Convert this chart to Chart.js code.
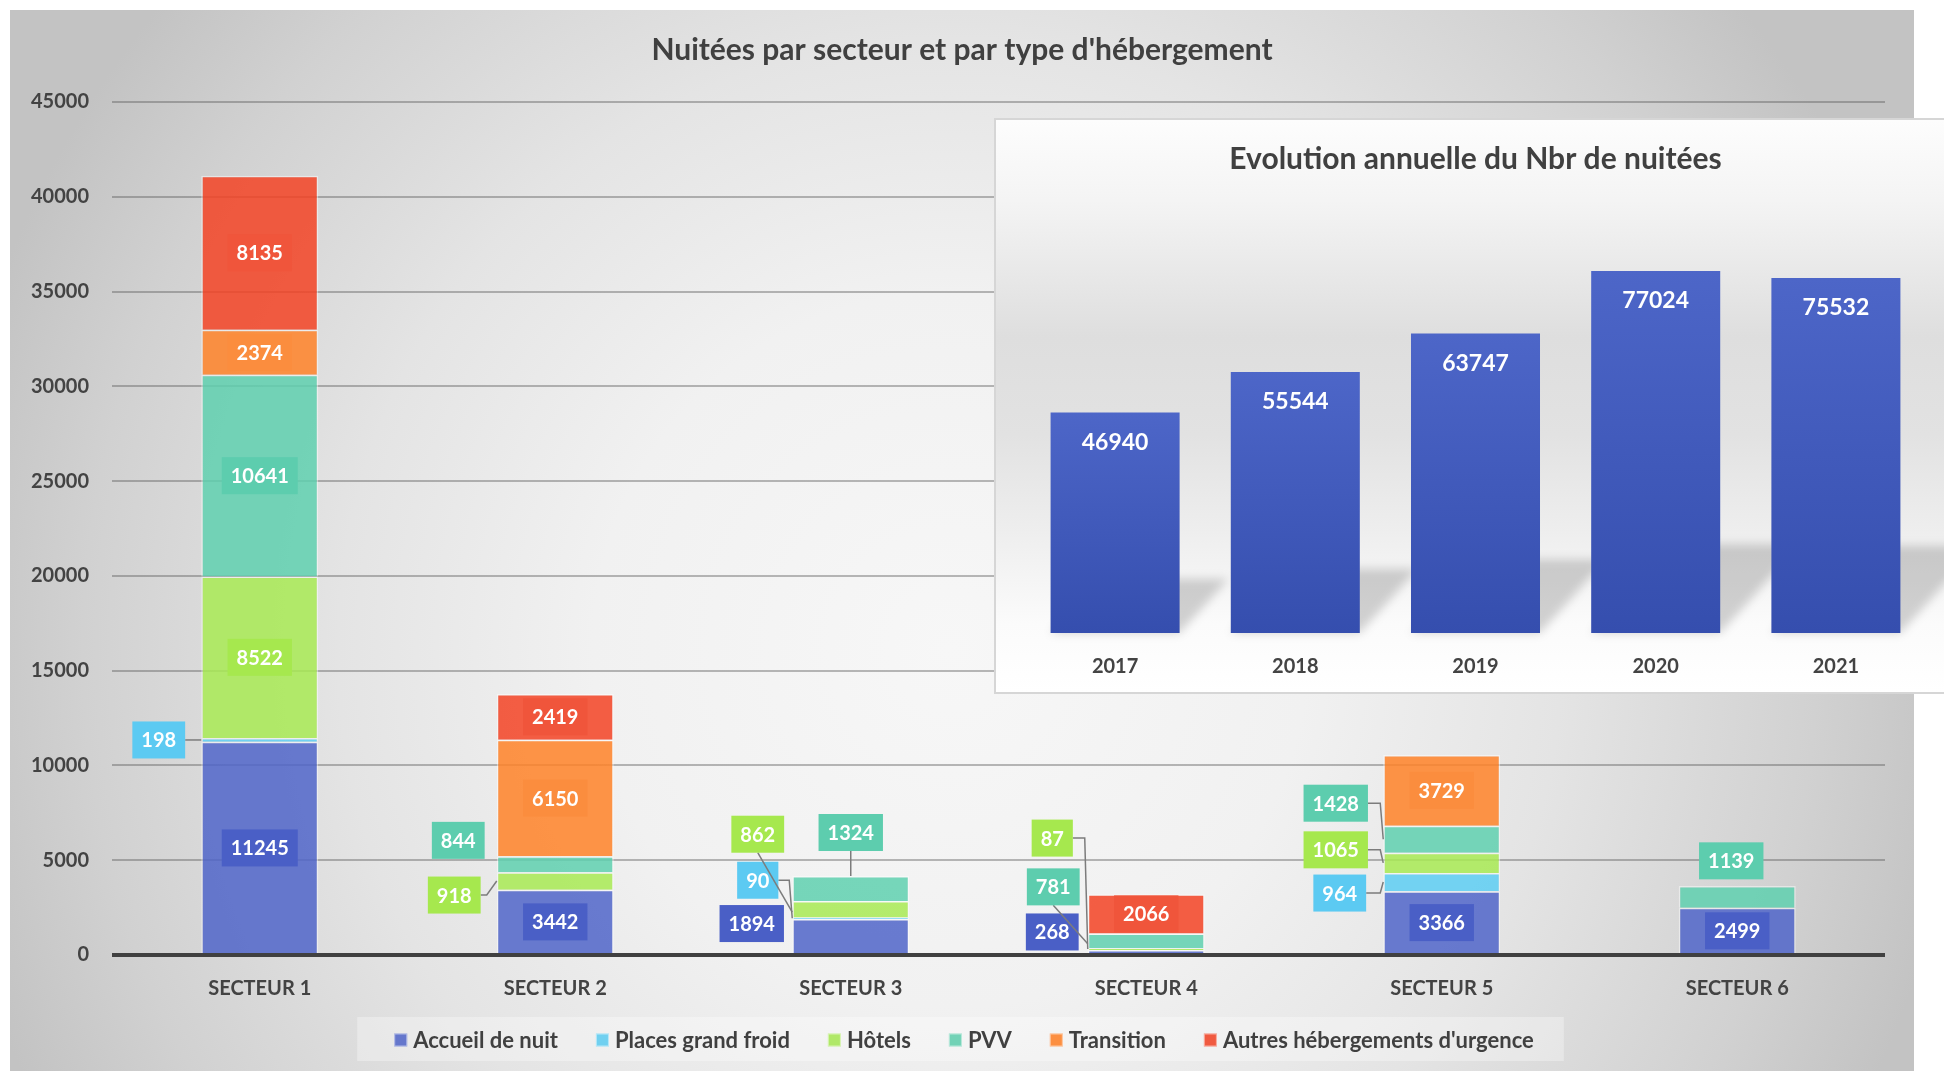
<!DOCTYPE html>
<html>
<head>
<meta charset="utf-8">
<title>Nuitées par secteur et par type d'hébergement</title>
<script src="https://cdn.jsdelivr.net/npm/chart.js@4.4.1/dist/chart.umd.min.js"></script>
<style>
  html, body { margin: 0; padding: 0; background: #ffffff; width: 1944px; height: 1071px; overflow: hidden; }
  #main { position: absolute; left: 0; top: 0; }
  #insetBox {
    position: absolute; left: 994px; top: 118px; width: 960px; height: 572px;
    border: 2px solid #d6d6d6;
    background: linear-gradient(to bottom, #fdfdfd 0%, #f4f4f4 14%, #dedede 38%, #e2e2e2 55%, #eeeeee 72%, #fbfbfb 88%, #ffffff 100%);
  }
  #inset { position: absolute; left: 0; top: 0; }
</style>
</head>
<body>
<canvas id="main" width="1944" height="1071"></canvas>
<div id="insetBox"><canvas id="inset" width="960" height="572"></canvas></div>
<script>
// ---- Data: nights per sector and accommodation type ----
const sectors = ['SECTEUR 1', 'SECTEUR 2', 'SECTEUR 3', 'SECTEUR 4', 'SECTEUR 5', 'SECTEUR 6'];
const accueilDeNuit    = [11245, 3442, 1894, 268, 3366, 2499];
const placesGrandFroid = [198, null, 90, null, 964, null];
const hotels           = [8522, 918, 862, 87, 1065, null];
const pvv              = [10641, 844, 1324, 781, 1428, 1139];
const transition       = [2374, 6150, null, null, 3729, null];
const autresUrgence    = [8135, 2419, null, 2066, null, null];

const seriesNames = ['Accueil de nuit', 'Places grand froid', 'Hôtels', 'PVV', 'Transition', "Autres hébergements d'urgence"];
const yTickStep = 5000;
const yTickMax = 45000;

// ---- Data: yearly totals ----
const years = ['2017', '2018', '2019', '2020', '2021'];
const nuiteesAnnuelles = [46940, 55544, 63747, 77024, 75532];

// ---- Styles ----
const barColors   = ['rgba(80,101,201,0.85)', 'rgba(93,206,243,0.85)', 'rgba(168,234,84,0.85)',
                     'rgba(95,208,175,0.85)', 'rgba(255,130,40,0.85)', 'rgba(243,67,36,0.85)'];
const labelColors = ['#4a5fc6', '#5ccaf2', '#a6e84e', '#5dcdae', '#fb8d3e', '#f0553b'];
const legendColors = ['#6577cc', '#70d0f0', '#b0e868', '#72d2b6', '#fc8f41', '#f05a40'];
const axisTextColor = '#434343';

// Placement of value boxes that sit beside their segment (key: series:sector)
const labelPlacement = {
  '1:0': { dx: -101, dy: 0,    leader: 'elbow' },
  '2:1': { dx: -101, dy: 14,   leader: 'elbow', elbow: 10 },
  '3:1': { dx: -97,  dy: -24 },
  '0:2': { dx: -99,  dy: -13 },
  '1:2': { dx: -93,  dy: -38,  leader: 'elbow' },
  '2:2': { dx: -93,  dy: -75,  leader: 'bottom' },
  '3:2': { dx: 0,    dy: -56,  leader: 'top' },
  '0:3': { dx: -94,  dy: -20 },
  '2:3': { dx: -94,  dy: -111, leader: 'elbow' },
  '3:3': { dx: -93,  dy: -54,  leader: 'bottom' },
  '1:4': { dx: -102, dy: 11,   leader: 'elbow' },
  '2:4': { dx: -106, dy: -13,  leader: 'elbow' },
  '3:4': { dx: -106, dy: -36,  leader: 'elbow' },
  '3:5': { dx: -6,   dy: -36 }
};

Chart.defaults.font.family = 'Lato, "Open Sans", sans-serif';

const seriesData = [accueilDeNuit, placesGrandFroid, hotels, pvv, transition, autresUrgence];

// Grey panel behind the main chart
const panelBackground = {
  id: 'panelBackground',
  beforeDraw(chart) {
    const ctx = chart.ctx;
    ctx.save();
    ctx.fillStyle = '#ffffff';
    ctx.fillRect(0, 0, chart.width, chart.height);
    const g = ctx.createRadialGradient(950, 650, 0, 950, 650, 1020);
    g.addColorStop(0, '#f7f7f7');
    g.addColorStop(0.35, '#f1f1f1');
    g.addColorStop(0.6, '#e4e4e4');
    g.addColorStop(0.85, '#d1d1d1');
    g.addColorStop(1, '#c3c3c3');
    ctx.fillStyle = g;
    ctx.fillRect(10, 10, 1904, chart.height - 10);
    ctx.restore();
  }
};

// Thick zero line over the bar feet
const zeroLine = {
  id: 'zeroLine',
  afterDatasetsDraw(chart) {
    const { ctx, chartArea, scales } = chart;
    const y = scales.y.getPixelForValue(0);
    ctx.save();
    ctx.strokeStyle = '#404040';
    ctx.lineWidth = 4;
    ctx.beginPath();
    ctx.moveTo(chartArea.left, y);
    ctx.lineTo(chartArea.right, y);
    ctx.stroke();
    ctx.restore();
  }
};

// Value boxes on each stacked segment
const segmentLabels = {
  id: 'segmentLabels',
  afterDatasetsDraw(chart) {
    const ctx = chart.ctx;
    ctx.save();
    ctx.font = 'bold 20px Lato';
    ctx.textAlign = 'center';
    ctx.textBaseline = 'middle';
    chart.data.datasets.forEach((ds, i) => {
      const meta = chart.getDatasetMeta(i);
      meta.data.forEach((el, j) => {
        const v = ds.data[j];
        if (v === null || v === undefined) return;
        const segY = (el.y + el.base) / 2;
        const p = labelPlacement[i + ':' + j];
        const text = String(v);
        const w = ctx.measureText(text).width + 18;
        const h = 37;
        let cx = el.x, cy = segY;
        if (p) { cx += p.dx; cy += p.dy; }
        const barLeft = el.x - el.width / 2;
        if (p && p.leader) {
          ctx.strokeStyle = '#7c7c7c';
          ctx.lineWidth = 1.5;
          ctx.beginPath();
          if (p.leader === 'elbow') {
            const ex = barLeft - (p.elbow || 3);
            ctx.moveTo(cx + w / 2, cy);
            ctx.lineTo(ex, cy);
            ctx.lineTo(barLeft, segY);
          } else if (p.leader === 'bottom') {
            ctx.moveTo(cx, cy + h / 2);
            ctx.lineTo(barLeft, segY + 3);
          } else if (p.leader === 'top') {
            ctx.moveTo(cx, cy + h / 2);
            ctx.lineTo(cx, el.y);
          }
          ctx.stroke();
        }
        ctx.fillStyle = ds.labelColor;
        ctx.fillRect(cx - w / 2, cy - h / 2, w, h);
        ctx.fillStyle = '#ffffff';
        ctx.fillText(text, cx, cy + 1);
      });
    });
    ctx.restore();
  }
};

// Legend strip under the sector names
const bottomLegend = {
  id: 'bottomLegend',
  afterDraw(chart) {
    const ctx = chart.ctx;
    ctx.save();
    ctx.font = 'bold 22px Lato';
    ctx.textBaseline = 'middle';
    ctx.textAlign = 'left';
    const sw = 13, gapText = 6, gapItem = 38;
    const items = chart.data.datasets.map(d => ({ text: d.label, color: d.legendColor, w: ctx.measureText(d.label).width }));
    const total = items.reduce((a, it) => a + sw + gapText + it.w, 0) + gapItem * (items.length - 1);
    const center = (chart.titleBlock.left + chart.titleBlock.right) / 2 + 2;
    let x = center - total / 2;
    const cy = 1040;
    ctx.fillStyle = 'rgba(255,255,255,0.32)';
    ctx.fillRect(x - 37, 1017, total + 67, 44);
    items.forEach(it => {
      ctx.fillStyle = it.color;
      ctx.fillRect(x, cy - 6.5, sw, sw);
      ctx.strokeStyle = 'rgba(255,255,255,0.5)';
      ctx.lineWidth = 1;
      ctx.strokeRect(x + 0.5, cy - 6, sw - 1, sw - 1);
      ctx.fillStyle = '#404040';
      ctx.fillText(it.text, x + sw + gapText, cy + 1);
      x += sw + gapText + it.w + gapItem;
    });
    ctx.restore();
  }
};

new Chart(document.getElementById('main').getContext('2d'), {
  type: 'bar',
  data: {
    labels: sectors,
    datasets: seriesData.map((values, i) => ({
      label: seriesNames[i],
      data: values,
      backgroundColor: barColors[i],
      borderColor: 'rgba(255,255,255,0.45)',
      borderWidth: 1.5,
      labelColor: labelColors[i],
      legendColor: legendColors[i],
      categoryPercentage: 1,
      barPercentage: 0.396
    }))
  },
  options: {
    responsive: false,
    animation: false,
    layout: { padding: { left: 10, right: 30, top: 10, bottom: 0 } },
    plugins: {
      legend: { display: false },
      tooltip: { enabled: false },
      title: {
        display: true,
        text: "Nuitées par secteur et par type d'hébergement",
        color: '#404040',
        font: { size: 30, weight: 'bold' },
        padding: { top: 22, bottom: 34 }
      }
    },
    scales: {
      x: {
        stacked: true,
        grid: { display: false, drawTicks: false },
        border: { display: false },
        ticks: { color: axisTextColor, font: { size: 20, weight: 'bold' }, padding: 22 },
        afterFit(s) { s.height = 116; }
      },
      y: {
        stacked: true,
        min: 0,
        max: yTickMax,
        border: { display: false },
        grid: {
          drawTicks: false,
          color: c => c.tick.value === 0 ? 'rgba(0,0,0,0)' : 'rgba(90,90,90,0.42)',
          lineWidth: 2
        },
        ticks: {
          stepSize: yTickStep,
          color: axisTextColor,
          font: { size: 20, weight: 'bold' },
          padding: 23,
          callback: v => String(v)
        },
        afterFit(s) { s.width = 102; }
      },
      // empty right-hand gutter, keeps the title centred on the panel
      gutter: {
        type: 'linear',
        position: 'right',
        display: true,
        grid: { display: false, drawTicks: false },
        border: { display: false },
        ticks: { display: false },
        afterFit(s) { s.width = 29; }
      }
    }
  },
  plugins: [panelBackground, zeroLine, segmentLabels, bottomLegend]
});

// ---- Inset: yearly evolution ----
const floorShadows = {
  id: 'floorShadows',
  beforeDatasetsDraw(chart) {
    const ctx = chart.ctx;
    const meta = chart.getDatasetMeta(0);
    ctx.save();
    ctx.filter = 'blur(5px)';
    ctx.fillStyle = 'rgba(0,0,0,0.17)';
    meta.data.forEach(el => {
      const hgt = (el.base - el.y) * 0.245;
      const dx = hgt * 0.9;
      const l = el.x - el.width / 2, r = el.x + el.width / 2;
      ctx.beginPath();
      ctx.moveTo(l, el.base);
      ctx.lineTo(r, el.base);
      ctx.lineTo(r + dx, el.base - hgt);
      ctx.lineTo(l + dx, el.base - hgt);
      ctx.closePath();
      ctx.fill();
    });
    ctx.restore();
  }
};

const yearValueLabels = {
  id: 'yearValueLabels',
  afterDatasetsDraw(chart) {
    const ctx = chart.ctx;
    const ds = chart.data.datasets[0];
    ctx.save();
    ctx.font = 'bold 23px Lato';
    ctx.fillStyle = '#ffffff';
    ctx.textAlign = 'center';
    ctx.textBaseline = 'middle';
    chart.getDatasetMeta(0).data.forEach((el, i) => {
      ctx.fillText(String(ds.data[i]), el.x, el.y + 30);
    });
    ctx.restore();
  }
};

new Chart(document.getElementById('inset').getContext('2d'), {
  type: 'bar',
  data: {
    labels: years,
    datasets: [{
      label: 'Nuitées',
      data: nuiteesAnnuelles,
      categoryPercentage: 1,
      barPercentage: 0.716,
      backgroundColor(c) {
        const chart = c.chart;
        const y = chart.scales && chart.scales.y;
        if (!chart.chartArea || !y || c.raw === undefined) return '#4259bd';
        const top = y.getPixelForValue(c.raw), bottom = y.getPixelForValue(0);
        const g = chart.ctx.createLinearGradient(0, top, 0, bottom);
        g.addColorStop(0, '#4d66c8');
        g.addColorStop(1, '#354eae');
        return g;
      }
    }]
  },
  options: {
    responsive: false,
    animation: false,
    layout: { padding: { left: 29, right: 30, top: 0, bottom: 0 } },
    plugins: {
      legend: { display: false },
      tooltip: { enabled: false },
      title: {
        display: true,
        text: 'Evolution annuelle du Nbr de nuitées',
        color: '#404040',
        font: { size: 30, weight: 'bold' },
        padding: { top: 21, bottom: 33 }
      }
    },
    scales: {
      x: {
        grid: { display: false, drawTicks: false },
        border: { display: false },
        ticks: { color: axisTextColor, font: { size: 20, weight: 'bold' }, padding: 22 },
        afterFit(s) { s.height = 59; }
      },
      y: { display: false, min: 0, max: 90000 }
    }
  },
  plugins: [floorShadows, yearValueLabels]
});
</script>
</body>
</html>
